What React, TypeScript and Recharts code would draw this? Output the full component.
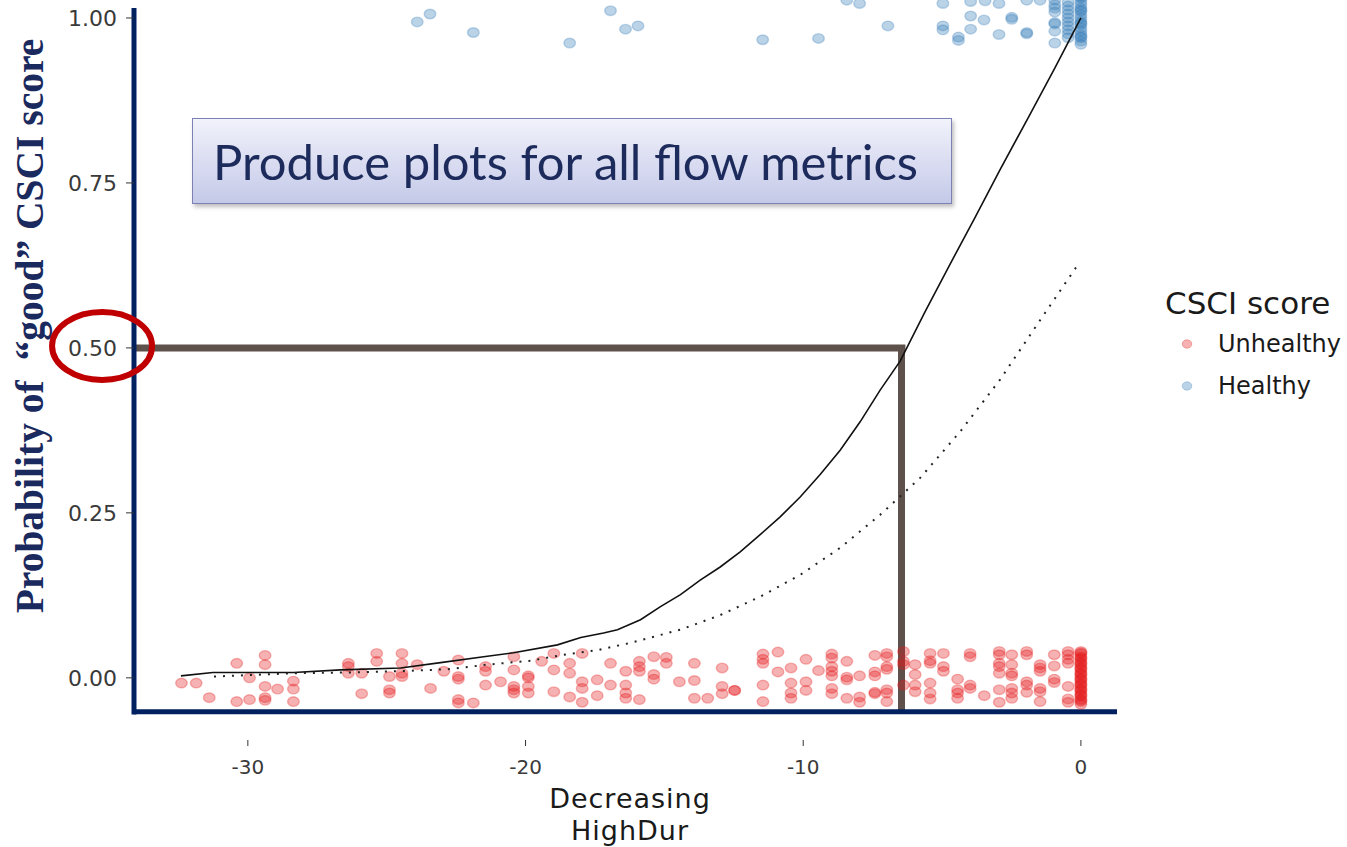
import {
  Label,
  Legend,
  ReferenceDot,
  ReferenceLine,
  Scatter,
  ScatterChart,
  XAxis,
  YAxis,
} from "recharts";

const RED = "#E41A1C";
const BLUE = "#377EB8";
const NAVY = "#002060";
const BROWN = "#5E504A";
const GG_FONT = "DejaVu Sans";

// [x, jittered probability]
const unhealthyPoints: [number, number][] = [
  [-32.39, -0.008], [-31.86, -0.008], [-31.39, -0.03],
  [-30.4, 0.022], [-30.4, -0.036],
  [-29.94, 0.0], [-29.94, -0.033],
  [-29.38, 0.034], [-29.38, 0.02], [-29.38, -0.013], [-29.38, -0.03], [-29.38, -0.034],
  [-28.93, -0.017],
  [-28.36, -0.005], [-28.36, -0.017], [-28.36, -0.036],
  [-26.38, 0.022], [-26.38, 0.017], [-26.38, 0.007],
  [-25.9, 0.007], [-25.9, -0.024],
  [-25.36, 0.037], [-25.36, 0.025],
  [-24.9, 0.002], [-24.9, -0.018], [-24.9, -0.023],
  [-24.45, 0.037], [-24.45, 0.022], [-24.45, 0.007], [-24.45, 0.002],
  [-23.9, 0.02], [-23.42, -0.016], [-22.94, 0.01],
  [-22.42, 0.027], [-22.42, 0.002], [-22.42, -0.002], [-22.42, -0.033], [-22.42, -0.038],
  [-21.88, -0.038],
  [-21.44, 0.017], [-21.44, 0.01], [-21.44, -0.011],
  [-20.9, -0.006],
  [-20.42, 0.032], [-20.42, 0.012], [-20.42, -0.013], [-20.42, -0.018], [-20.42, -0.023],
  [-19.9, 0.003], [-19.9, 0.0], [-19.9, -0.013], [-19.9, -0.023],
  [-19.42, 0.025],
  [-18.98, 0.037], [-18.98, 0.012], [-18.98, -0.021],
  [-18.41, 0.022], [-18.41, 0.007], [-18.41, -0.029],
  [-17.96, 0.037], [-17.96, -0.006], [-17.96, -0.016], [-17.96, -0.037],
  [-17.42, -0.003], [-17.42, -0.027],
  [-16.94, 0.022], [-16.94, -0.011],
  [-16.39, 0.01], [-16.39, -0.011], [-16.39, -0.023], [-16.39, -0.031],
  [-15.9, 0.025], [-15.9, 0.017], [-15.9, 0.01], [-15.9, -0.033],
  [-15.38, 0.032], [-15.38, 0.005], [-15.38, -0.002],
  [-14.93, 0.031], [-14.93, 0.022],
  [-14.46, -0.006],
  [-13.92, 0.022], [-13.92, -0.004], [-13.92, -0.031],
  [-13.44, -0.031],
  [-12.92, 0.015], [-12.92, -0.013], [-12.92, -0.024],
  [-12.47, -0.019], [-12.47, -0.019],
  [-11.45, 0.036], [-11.45, 0.028], [-11.45, 0.022], [-11.45, -0.011], [-11.45, -0.036],
  [-10.91, 0.039], [-10.91, 0.009],
  [-10.44, 0.015], [-10.44, -0.008], [-10.44, -0.023], [-10.44, -0.031],
  [-9.9, 0.028], [-9.9, -0.006], [-9.9, -0.019],
  [-9.45, 0.011],
  [-8.97, 0.036], [-8.97, 0.03], [-8.97, 0.017], [-8.97, 0.01], [-8.97, 0.003], [-8.97, -0.016], [-8.97, -0.024],
  [-8.43, 0.025], [-8.43, 0.001], [-8.43, -0.003], [-8.43, -0.031],
  [-7.97, 0.003], [-7.97, -0.029], [-7.97, -0.037],
  [-7.42, 0.034], [-7.42, 0.009], [-7.42, 0.003], [-7.42, -0.022], [-7.42, -0.024],
  [-6.99, 0.037], [-6.99, 0.032], [-6.99, 0.017], [-6.99, 0.013], [-6.99, -0.018], [-6.99, -0.023], [-6.99, -0.036],
  [-6.39, 0.04], [-6.39, 0.025], [-6.39, 0.02], [-6.39, -0.011],
  [-5.97, 0.02], [-5.97, 0.005], [-5.97, -0.011], [-5.97, -0.021],
  [-5.43, 0.037], [-5.43, 0.026], [-5.43, 0.022], [-5.43, -0.008], [-5.43, -0.023], [-5.43, -0.032],
  [-4.95, 0.037], [-4.95, 0.017], [-4.95, 0.01],
  [-4.44, -0.002], [-4.44, -0.018], [-4.44, -0.023], [-4.44, -0.031],
  [-3.99, 0.037], [-3.99, 0.032], [-3.99, -0.011], [-3.99, -0.016],
  [-3.48, -0.027],
  [-2.94, 0.04], [-2.94, 0.035], [-2.94, 0.022], [-2.94, 0.017], [-2.94, 0.007], [-2.94, -0.018], [-2.94, -0.037],
  [-2.49, 0.035], [-2.49, 0.02], [-2.49, 0.007], [-2.49, 0.003], [-2.49, -0.016], [-2.49, -0.023], [-2.49, -0.031],
  [-1.95, 0.04], [-1.95, 0.035], [-1.95, -0.006], [-1.95, -0.011], [-1.95, -0.022],
  [-1.47, 0.02], [-1.47, 0.015], [-1.47, 0.01], [-1.47, -0.016], [-1.47, -0.021], [-1.47, -0.036],
  [-0.96, 0.035], [-0.96, 0.018], [-0.96, -0.002], [-0.96, -0.007],
  [-0.46, 0.04], [-0.46, 0.035], [-0.46, 0.028], [-0.46, 0.022], [-0.46, -0.013], [-0.46, -0.032], [-0.46, -0.037],
  [0, 0.04], [0, 0.038], [0, 0.036], [0, 0.032], [0, 0.03], [0, 0.028], [0, 0.024], [0, 0.022],
  [0, 0.02], [0, 0.016], [0, 0.014], [0, 0.012], [0, 0.008], [0, 0.006], [0, 0.004], [0, 0.0],
  [0, -0.002], [0, -0.004], [0, -0.008], [0, -0.01], [0, -0.012], [0, -0.016], [0, -0.018],
  [0, -0.02], [0, -0.024], [0, -0.026], [0, -0.028], [0, -0.032], [0, -0.034], [0, -0.036], [0, -0.04],
];

const healthyPoints: [number, number][] = [
  [-23.9, 0.994], [-23.44, 1.006], [-21.88, 0.978], [-18.41, 0.962],
  [-16.94, 1.011], [-16.4, 0.983], [-15.95, 0.988],
  [-11.46, 0.967], [-9.45, 0.969], [-8.43, 1.027], [-7.97, 1.022], [-6.95, 0.988],
  [-4.97, 1.022], [-4.97, 0.988], [-4.97, 0.982],
  [-4.41, 0.971], [-4.41, 0.966],
  [-3.97, 1.003], [-3.97, 0.983], [-3.97, 1.025],
  [-3.49, 0.997], [-3.45, 1.026],
  [-2.95, 1.022], [-2.95, 0.975],
  [-2.49, 1.001], [-2.49, 0.998],
  [-1.95, 1.027], [-1.95, 0.978], [-1.95, 0.976],
  [-1.47, 1.027],
  [-0.94, 1.027], [-0.94, 1.02], [-0.94, 1.015], [-0.94, 1.009], [-0.94, 0.993], [-0.94, 0.991], [-0.94, 0.98], [-0.94, 0.962],
  [-0.46, 1.024], [-0.46, 1.018], [-0.46, 1.012], [-0.46, 1.006], [-0.46, 1.0],
  [-0.46, 0.994], [-0.46, 0.988], [-0.46, 0.982], [-0.46, 0.976], [-0.46, 0.97],
  [0, 1.04], [0, 1.035], [0, 1.03], [0, 1.025], [0, 1.02], [0, 1.015], [0, 1.01], [0, 1.005], [0, 1.0],
  [0, 0.995], [0, 0.99], [0, 0.985], [0, 0.98], [0, 0.975], [0, 0.97], [0, 0.965], [0, 0.96],
  [0, 1.032], [0, 1.012], [0, 0.992], [0, 0.972],
];

// fitted probability (solid) and second fit (dotted)
const fittedCurve: [number, number][] = [
  [-32.41, 0.003], [-31.26, 0.008], [-28.35, 0.008], [-26.65, 0.012], [-24.5, 0.015],
  [-23.06, 0.023], [-21.51, 0.032], [-20.43, 0.038], [-18.85, 0.05], [-18.01, 0.061],
  [-17.19, 0.068], [-16.69, 0.073], [-15.86, 0.088], [-15.14, 0.108], [-14.42, 0.126],
  [-13.71, 0.148], [-12.99, 0.168], [-12.27, 0.191], [-11.55, 0.217], [-10.83, 0.244],
  [-10.11, 0.274], [-9.39, 0.308], [-8.67, 0.345], [-7.95, 0.388], [-7.23, 0.436],
  [-6.51, 0.48], [-5.61, 0.555], [-4.71, 0.627], [-3.81, 0.698], [-2.91, 0.77],
  [-1.91, 0.848], [-0.94, 0.924], [0, 1.0],
];

const dottedCurve: [number, number][] = [
  [-31.22, 0.002], [-28.35, 0.007], [-26.55, 0.008], [-24.6, 0.01], [-22.81, 0.013],
  [-21.37, 0.02], [-19.82, 0.026], [-18.63, 0.035], [-17.41, 0.042], [-16.22, 0.053],
  [-14.42, 0.073], [-12.99, 0.095], [-11.55, 0.123], [-10.11, 0.156], [-8.67, 0.197],
  [-7.23, 0.247], [-5.79, 0.303], [-4.35, 0.373], [-2.91, 0.452], [-1.47, 0.542], [-0.11, 0.626],
];

const xTicks = [-30, -20, -10, 0];
const yTicks = [0, 0.25, 0.5, 0.75, 1];
const xDomain: [number, number] = [-34.1, 1.3];
const yDomain: [number, number] = [-0.0942, 1.0727];
const cutoffProb = 0.5;
const cutoffX = -6.46;
const axisY = -0.0515;
const axisTop = 1.015;

const legendItems = [
  { label: "Unhealthy", color: RED },
  { label: "Healthy", color: BLUE },
];

const toXY = (pts: [number, number][]) => pts.map(([x, y]) => ({ x, y }));

const pointShape = (color: string) => (props: any) => (
  <ellipse
    cx={props.cx}
    cy={props.cy}
    rx={5.8}
    ry={4.8}
    fill={color}
    fillOpacity={0.34}
    stroke={color}
    strokeOpacity={0.3}
    strokeWidth={1.4}
  />
);

const noShape = () => <g />;

function CsciLegend() {
  return (
    <div style={{ fontFamily: GG_FONT, color: "#1a1a1a" }}>
      <div style={{ fontSize: 31, height: 40, lineHeight: "40px" }}>CSCI score</div>
      {legendItems.map((item) => (
        <div key={item.label} style={{ height: 42, display: "flex", alignItems: "center" }}>
          <svg width={53} height={42}>
            <ellipse cx={22} cy={21} rx={4.8} ry={4.2} fill={item.color} fillOpacity={0.34} stroke={item.color} strokeOpacity={0.3} />
          </svg>
          <span style={{ fontSize: 24 }}>{item.label}</span>
        </div>
      ))}
    </div>
  );
}

export default function App() {
  return (
    <div
      style={{
        position: "absolute",
        left: 0,
        top: 0,
        width: 1347,
        height: 847,
        overflow: "hidden",
        background: "#fff",
        fontFamily: GG_FONT,
      }}
    >
      <div style={{ position: "absolute", left: 0, top: -30 }}>
        <ScatterChart width={1347} height={877} margin={{ top: 0, right: 230, bottom: 0, left: 0 }}>
          <XAxis
            type="number"
            dataKey="x"
            domain={xDomain}
            allowDataOverflow
            ticks={xTicks}
            axisLine={false}
            tickLine={{ stroke: "#333" }}
            tickSize={6}
            tickMargin={14}
            height={107}
            tick={{ fill: "#3a3a3a", fontSize: 20, fontFamily: GG_FONT }}
          >
            <Label
              content={() => (
                <text textAnchor="middle" fill="#1a1a1a" fontSize={27} letterSpacing={1} fontFamily={GG_FONT}>
                  <tspan x={630} y={838}>Decreasing</tspan>
                  <tspan x={630} y={870}>HighDur</tspan>
                </text>
              )}
            />
          </XAxis>
          <YAxis
            type="number"
            dataKey="y"
            domain={yDomain}
            allowDataOverflow
            ticks={yTicks}
            tickFormatter={(v: number) => v.toFixed(2)}
            axisLine={false}
            tickLine={{ stroke: "#333" }}
            tickSize={8}
            tickMargin={9}
            width={134}
            tick={{ fill: "#3a3a3a", fontSize: 22, fontFamily: GG_FONT }}
          >
            <Label
              content={() => (
                <text
                  x={30}
                  y={356}
                  transform="rotate(-90, 30, 356)"
                  textAnchor="middle"
                  dominantBaseline="central"
                  fill="#1b2a5e"
                  fontSize={39.5}
                  fontWeight="bold"
                  fontFamily="Liberation Serif"
                  style={{ whiteSpace: "pre" }}
                >
                  {"Probability of  \u201Cgood\u201D CSCI score"}
                </text>
              )}
            />
          </YAxis>
          <Scatter name="Unhealthy" data={toXY(unhealthyPoints)} shape={pointShape(RED)} isAnimationActive={false} />
          <Scatter name="Healthy" data={toXY(healthyPoints)} shape={pointShape(BLUE)} isAnimationActive={false} />
          <Scatter
            data={toXY(fittedCurve)}
            line={{ stroke: "#111", strokeWidth: 1.6 }}
            lineType="joint"
            shape={noShape}
            isAnimationActive={false}
            legendType="none"
          />
          <Scatter
            data={toXY(dottedCurve)}
            line={{ stroke: "#222", strokeWidth: 2, strokeDasharray: "2 7" }}
            lineType="joint"
            shape={noShape}
            isAnimationActive={false}
            legendType="none"
          />
          <ReferenceLine
            segment={[{ x: xDomain[0], y: cutoffProb }, { x: cutoffX + 0.14, y: cutoffProb }]}
            stroke={BROWN}
            strokeWidth={7}
            ifOverflow="visible"
          />
          <ReferenceLine
            segment={[{ x: cutoffX, y: cutoffProb }, { x: cutoffX, y: axisY }]}
            stroke={BROWN}
            strokeWidth={7}
            ifOverflow="visible"
          />
          <ReferenceLine
            segment={[{ x: xDomain[0], y: axisY }, { x: xDomain[1], y: axisY }]}
            stroke={NAVY}
            strokeWidth={5}
            ifOverflow="visible"
          />
          <ReferenceLine
            segment={[{ x: xDomain[0], y: axisY - 0.004 }, { x: xDomain[0], y: axisTop }]}
            stroke={NAVY}
            strokeWidth={5}
            ifOverflow="visible"
          />
          <ReferenceDot
            x={-35.25}
            y={0.503}
            ifOverflow="visible"
            shape={(p: any) => (
              <ellipse cx={p.cx} cy={p.cy} rx={50} ry={34} fill="none" stroke="#C00000" strokeWidth={6} />
            )}
          />
          <Legend
            layout="vertical"
            align="center"
            verticalAlign="middle"
            content={() => <CsciLegend />}
            wrapperStyle={{ left: 1165, top: 313, width: 182, height: 130 }}
          />
        </ScatterChart>
      </div>
      <div
        style={{
          position: "absolute",
          left: 192,
          top: 118,
          width: 760,
          height: 86,
          boxSizing: "border-box",
          border: "1.5px solid #7d80b3",
          background: "linear-gradient(#f1f2fb, #c4c9e8)",
          boxShadow: "2px 3px 4px rgba(0,0,0,0.25)",
          display: "flex",
          alignItems: "center",
          paddingLeft: 20,
          fontFamily: "Lato",
          fontSize: 49,
          color: "#1d2b5c",
          whiteSpace: "nowrap",
        }}
      >
        Produce plots for all flow metrics
      </div>
    </div>
  );
}
